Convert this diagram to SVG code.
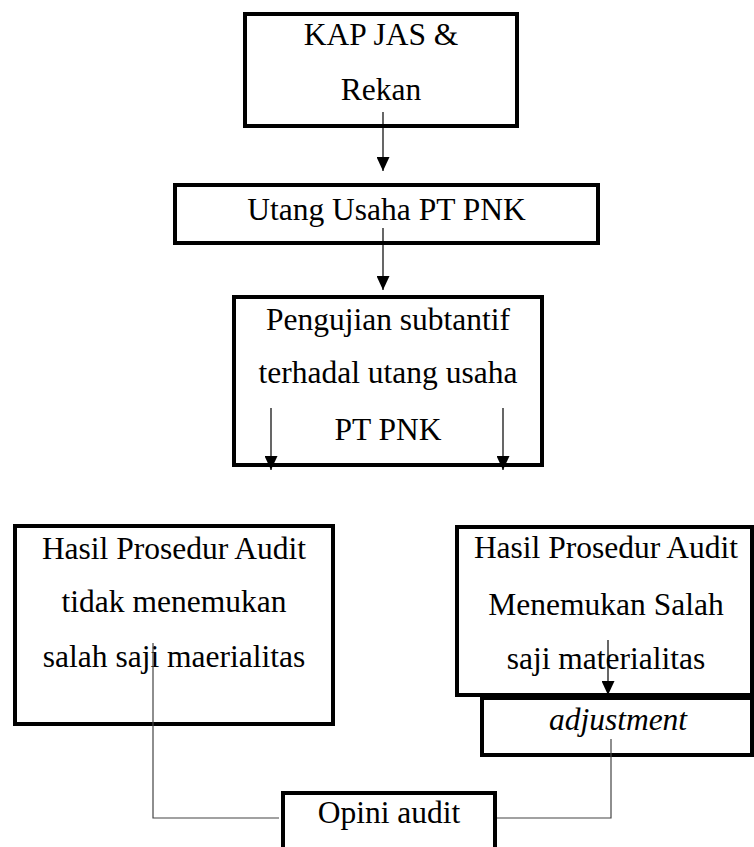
<svg xmlns="http://www.w3.org/2000/svg" width="754" height="847" viewBox="0 0 754 847">
<style>
.box{fill:#fff;stroke:#000;stroke-width:4}
text{font-family:'Liberation Serif','DejaVu Serif',serif;font-size:31.5px;fill:#000;text-anchor:middle}
.i{font-style:italic}
.c{fill:none;stroke:#000;stroke-width:1.2}
.g{fill:none;stroke:#444;stroke-width:1.2}
</style>
<defs>
<marker id="ah" markerWidth="14" markerHeight="13" refX="14" refY="6.5" orient="auto" markerUnits="userSpaceOnUse" viewBox="0 0 14 13">
<path d="M0,0 L14,6.5 L0,13 Z" fill="#000"/>
</marker>
</defs>
<g id="n1"><rect class="box" x="245" y="14" width="272" height="112"/><text x="381" y="45">KAP JAS &amp;</text><text x="381" y="100">Rekan</text></g>
<g id="n2"><rect class="box" x="175" y="185" width="423" height="58"/><text x="386.5" y="220">Utang Usaha PT PNK</text></g>
<g id="n3"><rect class="box" x="234" y="297" width="308" height="168"/><text x="388" y="330">Pengujian subtantif</text><text x="388" y="383">terhadal utang usaha</text><text x="388" y="440">PT PNK</text></g>
<g id="n4"><rect class="box" x="15" y="526" width="318" height="198"/><text x="174" y="559">Hasil Prosedur Audit</text><text x="174" y="612">tidak menemukan</text><text x="174" y="667">salah saji maerialitas</text></g>
<g id="n5"><rect class="box" x="457" y="527" width="295" height="168"/><text x="606" y="558">Hasil Prosedur Audit</text><text x="606" y="615">Menemukan Salah</text><text x="606" y="669">saji materialitas</text></g>
<g id="n6"><rect class="box" x="482" y="698" width="270" height="57"/><text class="i" x="618" y="730">adjustment</text></g>
<g id="n7"><rect class="box" x="283" y="793" width="212" height="70"/><text x="389" y="823">Opini audit</text></g>
<g id="connectors">
<line class="c" x1="383" y1="112" x2="383" y2="171" marker-end="url(#ah)"/>
<line class="c" x1="383" y1="228" x2="383" y2="290" marker-end="url(#ah)"/>
<line class="c" x1="271" y1="408" x2="271" y2="470" marker-end="url(#ah)"/>
<line class="c" x1="503" y1="408" x2="503" y2="470" marker-end="url(#ah)"/>
<line class="c" x1="608" y1="640" x2="608" y2="695" marker-end="url(#ah)"/>
<polyline class="g" points="153,643 153,818 279,818"/>
<polyline class="g" points="497,818 611,818 611,739"/>
</g>
</svg>
